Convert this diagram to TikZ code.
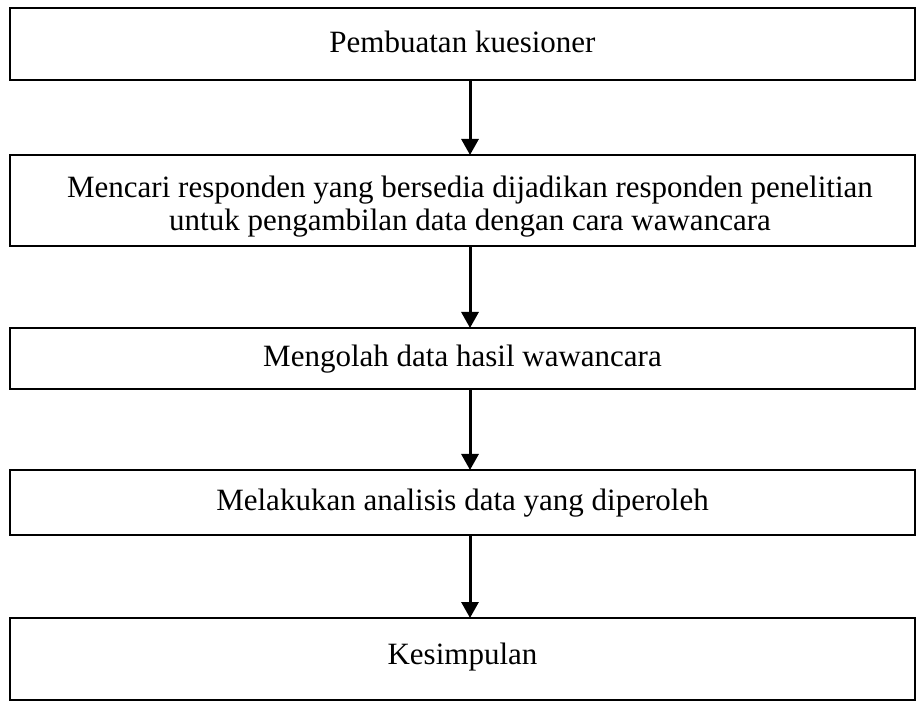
\documentclass[tikz,border=0pt]{standalone}
\usepackage{fontspec}
\setmainfont{Liberation Serif}
\usetikzlibrary{arrows.meta}
\begin{document}
\begin{tikzpicture}[x=1pt,y=-1pt,
  flowbox/.style={draw=black,line width=2pt,minimum width=905pt,inner sep=0pt,outer sep=0pt},
  flowtext/.style={font=\fontsize{31}{33}\selectfont,align=center,inner sep=0pt},
  flowarrow/.style={line width=3pt,-{Triangle[width=17pt,length=16pt]}}]
\useasboundingbox (0,0) rectangle (924,708);
\node[flowbox,minimum height=72pt] (b1) at (462.5,44) {};
\node[flowbox,minimum height=91pt] (b2) at (462.5,200.5) {};
\node[flowbox,minimum height=61pt] (b3) at (462.5,358.5) {};
\node[flowbox,minimum height=65pt] (b4) at (462.5,502.5) {};
\node[flowbox,minimum height=82pt] (b5) at (462.5,659) {};
\node[flowtext] (t1) at (462.5,42) {Pembuatan kuesioner};
\node[flowtext] (t2) at (470,207) {Mencari responden yang bersedia dijadikan responden penelitian\\untuk pengambilan data dengan cara wawancara};
\node[flowtext] (t3) at (462.5,359) {Mengolah data hasil wawancara};
\node[flowtext] (t4) at (462.5,503) {Melakukan analisis data yang diperoleh};
\node[flowtext] (t5) at (462.5,657) {Kesimpulan};
\draw[flowarrow] (b1.south -| 470,0) -- (b2.north -| 470,0);
\draw[flowarrow] (b2.south -| 470,0) -- (b3.north -| 470,0);
\draw[flowarrow] (b3.south -| 470,0) -- (b4.north -| 470,0);
\draw[flowarrow] (b4.south -| 470,0) -- (b5.north -| 470,0);
\end{tikzpicture}
\end{document}
